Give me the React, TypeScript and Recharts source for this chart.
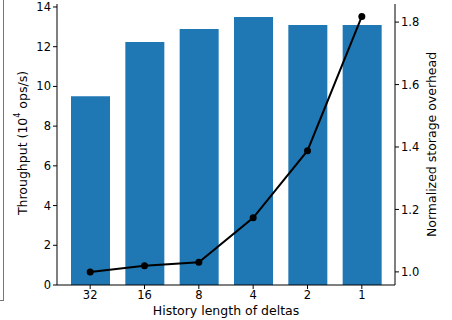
import { Bar, ComposedChart, Line, XAxis, YAxis } from "recharts"

const historyLengths = ["32", "16", "8", "4", "2", "1"]
const throughput = [9.5, 12.24, 12.89, 13.49, 13.09, 13.09]
const storageOverhead = [1.0, 1.02, 1.031, 1.173, 1.388, 1.818]
const leftTicks = [0, 2, 4, 6, 8, 10, 12, 14]
const rightTicks = [1.0, 1.2, 1.4, 1.6, 1.8]

const data = historyLengths.map((h, i) => ({
  h,
  throughput: throughput[i],
  overhead: storageOverhead[i],
}))

const font = "'DejaVu Sans', sans-serif"
const tickStyle = { fontSize: 11.5, fill: "#000", fontFamily: font }
const labelSize = 12.5

function LeftLabel() {
  return (
    <text
      x={22}
      y={143}
      transform="rotate(-90 22 143)"
      textAnchor="middle"
      dominantBaseline="central"
      fontSize={labelSize}
      fontFamily={font}
      fill="#000"
    >
      Throughput (10
      <tspan fontSize={8} dy={-5}>4</tspan>
      <tspan dy={5}> ops/s)</tspan>
    </text>
  )
}

export default function App() {
  return (
    <div style={{ position: "absolute", left: 0, top: 0, width: 452, height: 320, background: "#fff" }}>
      <div
        style={{
          position: "absolute",
          left: 0,
          top: 0,
          width: 3,
          height: 300,
          borderRight: "1.5px solid #777",
          borderBottom: "1.5px solid #777",
        }}
      />
      <ComposedChart
        width={452}
        height={320}
        data={data}
        margin={{ top: 4, right: 0, bottom: 0, left: 0 }}
        barSize={39}
        style={{ fontFamily: font }}
      >
        <XAxis
          dataKey="h"
          xAxisId="bottom"
          height={35}
          padding={{ left: 6, right: 6 }}
          tick={tickStyle}
          tickLine={{ stroke: "#000" }}
          tickSize={4}
          axisLine={{ stroke: "#000" }}
          label={{
            value: "History length of deltas",
            position: "insideBottom",
            offset: 5,
            fontSize: labelSize,
            fill: "#000",
            fontFamily: font,
          }}
        />
        <XAxis dataKey="h" xAxisId="top" orientation="top" height={0} tick={false} tickLine={false} axisLine={{ stroke: "#000" }} />
        <YAxis
          yAxisId="left"
          width={57}
          domain={[0, 14.15]}
          ticks={leftTicks}
          interval={0}
          tick={tickStyle}
          tickLine={{ stroke: "#000" }}
          tickSize={4}
          axisLine={{ stroke: "#000" }}
          label={<LeftLabel />}
        />
        <YAxis
          yAxisId="right"
          orientation="right"
          width={57}
          domain={[0.958, 1.858]}
          ticks={rightTicks}
          interval={0}
          tickFormatter={(v: number) => v.toFixed(1)}
          tick={tickStyle}
          tickLine={{ stroke: "#000" }}
          tickSize={4}
          axisLine={{ stroke: "#000" }}
          label={{
            value: "Normalized storage overhead",
            angle: -90,
            position: "insideRight",
            offset: 20,
            fontSize: labelSize,
            fill: "#000",
            fontFamily: font,
            style: { textAnchor: "middle" },
          }}
        />
        <Bar dataKey="throughput" xAxisId="bottom" yAxisId="left" fill="#1f77b4" isAnimationActive={false} />
        <Line
          dataKey="overhead"
          xAxisId="bottom"
          yAxisId="right"
          stroke="#000"
          strokeWidth={2}
          dot={{ r: 3.5, fill: "#000", stroke: "#000", strokeWidth: 0 }}
          isAnimationActive={false}
        />
      </ComposedChart>
    </div>
  )
}
